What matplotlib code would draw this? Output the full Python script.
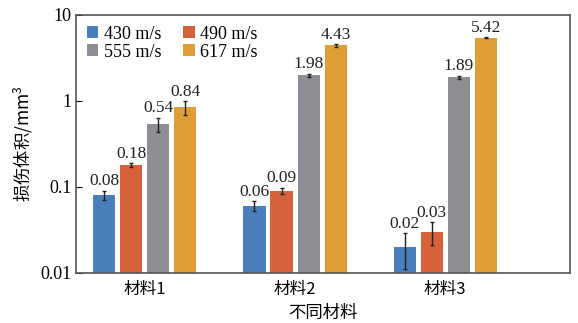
import numpy as np
import matplotlib.pyplot as plt

materials = ['材料1', '材料2', '材料3']
speeds = ['430 m/s', '490 m/s', '555 m/s', '617 m/s']
v430 = [0.08, 0.06, 0.02]
v490 = [0.18, 0.09, 0.03]
v555 = [0.54, 1.98, 1.89]
v617 = [0.84, 4.43, 5.42]
e430 = [0.01, 0.008, 0.009]
e490 = [0.01, 0.008, 0.009]
e555 = [0.1, 0.1, 0.08]
e617 = [0.15, 0.15, 0.1]
labels = [['0.08', '0.06', '0.02'], ['0.18', '0.09', '0.03'],
          ['0.54', '1.98', '1.89'], ['0.84', '4.43', '5.42']]

colors = ['#4a7fbb', '#d6623c', '#8d8f95', '#e09e38']
serif = ['Liberation Serif', 'DejaVu Serif']
cjk = ['Noto Sans CJK SC', 'DejaVu Sans']

fig = plt.figure(figsize=(5.78, 3.23), dpi=100)
ax = fig.add_axes([0.131, 0.155, 0.855, 0.799])

x = np.arange(len(materials))
w = 0.147
step = 0.18
vals = [v430, v490, v555, v617]
errs = [e430, e490, e555, e617]
for i in range(4):
    pos = x + (i - 1.5) * step
    ax.bar(pos, vals[i], w, color=colors[i], label=speeds[i],
           yerr=errs[i], error_kw=dict(ecolor='#222222', elinewidth=1, capsize=1.5, capthick=1))
    for p, v, e, t in zip(pos, vals[i], errs[i], labels[i]):
        ax.annotate(t, (p, v + e), xytext=(0, 1), textcoords='offset points',
                    ha='center', va='bottom', fontsize=12.5, family=serif, color='#222222')

ax.set_yscale('log')
ax.set_ylim(0.01, 10)
ax.set_xlim(-0.46, 2.83)
ax.set_xticks(x)
ax.set_xticklabels(materials, family=cjk, fontsize=12)
ax.tick_params(axis='x', length=0, pad=6)
ax.tick_params(axis='y', which='major', direction='in', length=4, labelsize=13, pad=3)
ax.tick_params(axis='y', which='minor', length=0)
ax.set_yticks([0.01, 0.1, 1, 10])
ax.set_yticklabels(['0.01', '0.1', '1', '10'], family=serif)
ax.set_ylabel('损伤体积/mm$^{\\mathregular{3}}$', family=cjk, fontsize=12.5, labelpad=4)
ax.set_xlabel('不同材料', family=cjk, fontsize=12.5, labelpad=4)
for s in ax.spines.values():
    s.set_color('#555555')
    s.set_linewidth(1.2)

h, l = ax.get_legend_handles_labels()
order = [0, 2, 1, 3]
ax.legend([h[k] for k in order], [l[k] for k in order], ncol=2, loc='upper left',
          frameon=False, prop={'family': serif, 'size': 13},
          handlelength=0.65, handleheight=0.65, handletextpad=0.3, columnspacing=1.2,
          labelspacing=0.05, borderaxespad=0.2)

fig.savefig('out.png', dpi=100)
